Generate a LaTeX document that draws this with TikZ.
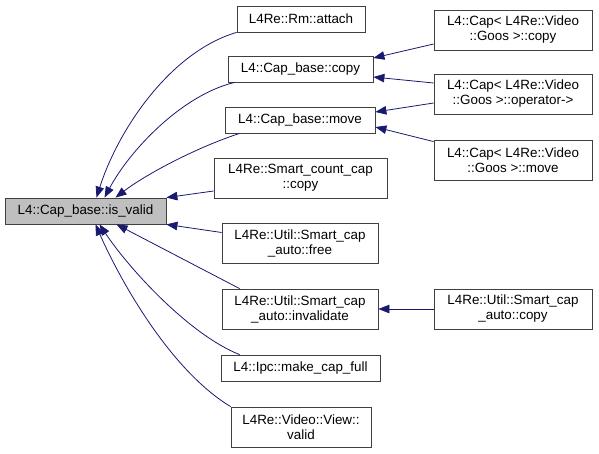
\documentclass[tikz,border=0pt]{standalone}
\usepackage{fontspec}
\setmainfont{Liberation Sans}
\usetikzlibrary{arrows.meta}
\definecolor{calledge}{HTML}{191970}
\definecolor{rootfill}{HTML}{BFBFBF}
\definecolor{boxline}{HTML}{404040}
\begin{document}
\begin{tikzpicture}[x=1pt, y=-1pt,
    fn/.style={draw=boxline, line width=0.8pt, fill=white, inner sep=0pt, align=center,
      font=\fontsize{13.4}{15}\selectfont},
    callarrow/.style={draw=calledge, line width=0.8pt,
      -{Triangle[length=11pt, width=8.5pt, fill=calledge]}}]
  \useasboundingbox (0,0) rectangle (599,453);
  % fonction racine
  \node[fn, fill=rootfill, minimum width=161pt, minimum height=26pt] (isvalid) at (85.5,211) {L4::Cap\_base::is\_valid};
  % appelants directs
  \node[fn, minimum width=128pt, minimum height=26pt] (attach) at (301,19) {L4Re::Rm::attach};
  \node[fn, minimum width=145pt, minimum height=26pt] (basecopy) at (300.5,69) {L4::Cap\_base::copy};
  \node[fn, minimum width=150pt, minimum height=26pt] (basemove) at (300,120) {L4::Cap\_base::move};
  \node[fn, minimum width=173pt, minimum height=40pt] (countcopy) at (300.5,178) {L4Re::Smart\_count\_cap\\::copy};
  \node[fn, minimum width=156pt, minimum height=40pt] (autofree) at (300,243.5) {L4Re::Util::Smart\_cap\\\_auto::free};
  \node[fn, minimum width=156pt, minimum height=40pt] (invalidate) at (300,309) {L4Re::Util::Smart\_cap\\\_auto::invalidate};
  \node[fn, minimum width=159pt, minimum height=26pt] (makecap) at (300.5,368) {L4::Ipc::make\_cap\_full};
  \node[fn, minimum width=140pt, minimum height=40pt] (viewvalid) at (301,427) {L4Re::Video::View::\\valid};
  % appelants indirects
  \node[fn, minimum width=158pt, minimum height=40pt] (capcopy) at (513,30) {L4::Cap< L4Re::Video\\::Goos >::copy};
  \node[fn, minimum width=158pt, minimum height=40pt] (capop) at (513,94) {L4::Cap< L4Re::Video\\::Goos >::operator->};
  \node[fn, minimum width=158pt, minimum height=40pt] (capmove) at (513,160) {L4::Cap< L4Re::Video\\::Goos >::move};
  \node[fn, minimum width=158pt, minimum height=40pt] (autocopy) at (513,309) {L4Re::Util::Smart\_cap\\\_auto::copy};
  % aretes vers la racine
  \draw[callarrow] (attach.south west) .. controls (170,52) and (118,130) .. ([xshift=11pt]isvalid.north);
  \draw[callarrow] ([xshift=7pt]basecopy.south west) .. controls (182,95) and (130,150) .. ([xshift=19pt]isvalid.north);
  \draw[callarrow] ([xshift=15pt]basemove.south west) .. controls (195,148) and (145,175) .. ([xshift=30pt]isvalid.north);
  \draw[callarrow] ([yshift=-13pt]countcopy.west) -- (isvalid.north east);
  \draw[callarrow] ([yshift=11pt]autofree.west) -- (isvalid.south east);
  \draw[callarrow] ([xshift=18pt]invalidate.north west) -- ([xshift=31pt]isvalid.south);
  \draw[callarrow] ([xshift=19pt]makecap.north west) .. controls (190,335) and (130,270) .. ([xshift=14pt]isvalid.south);
  \draw[callarrow] (viewvalid.north west) .. controls (170,370) and (120,280) .. ([xshift=10pt]isvalid.south);
  % aretes de la colonne droite
  \draw[callarrow] ([yshift=-14pt]capcopy.west) -- ([yshift=11pt]basecopy.east);
  \draw[callarrow] ([yshift=11pt]capop.west) -- ([yshift=-8pt]basecopy.east);
  \draw[callarrow] ([yshift=-9pt]capop.west) -- ([yshift=8pt]basemove.east);
  \draw[callarrow] ([yshift=-2pt]capmove.north west) -- ([yshift=-7pt]basemove.east);
  \draw[callarrow] (autocopy.west) -- (invalidate.east);
\end{tikzpicture}
\end{document}
